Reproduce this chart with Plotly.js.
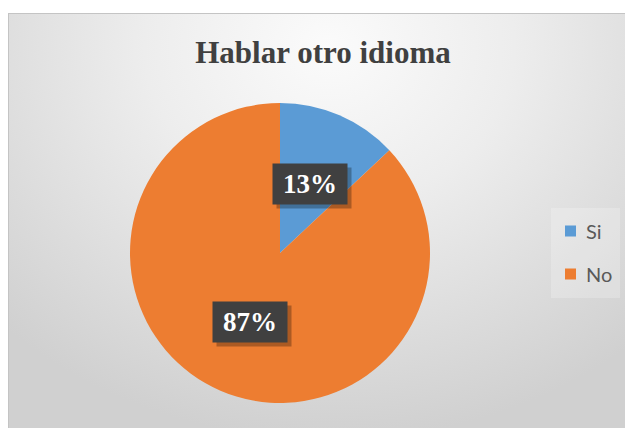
<!DOCTYPE html>
<html>
<head>
<meta charset="utf-8">
<script src="https://cdn.plot.ly/plotly-3.0.1.min.js"></script>
<style>
  html, body { margin: 0; padding: 0; background: #ffffff; }
  #frame {
    position: absolute; left: 8px; top: 13px; width: 617px; height: 415px;
    box-sizing: border-box;
    border-top: 1px solid #c4c4c4; border-left: 1px solid #c4c4c4;
    background: radial-gradient(ellipse 75% 95% at 52% 8%, #fbfbfb 0%, #ededed 40%, #dcdcdc 75%, #d0d0d0 100%);
  }
  #chart { position: absolute; left: 0; top: 0; width: 625px; height: 428px; }
</style>
</head>
<body>
<div id="frame"></div>
<div id="chart"></div>
<script>
// ---- data ----
const labels = ['Si', 'No'];
const values = [13, 87];
const sliceColors = ['#5B9BD5', '#ED7D31'];
const chartTitle = 'Hablar otro idioma';

// ---- geometry / style ----
const W = 625, H = 428;
const domain = { x: [130 / W, 430 / W], y: [1 - 403 / H, 1 - 103 / H] };

const total = values.reduce((a, b) => a + b, 0);
const pctText = values.map(v => Math.round(v / total * 100) + '%');

// label positions derived from data: halfway along each slice bisector
const cxPx = (domain.x[0] + domain.x[1]) / 2 * W;
const cyPx = (1 - (domain.y[0] + domain.y[1]) / 2) * H;
const rPx = Math.min((domain.x[1] - domain.x[0]) * W, (domain.y[1] - domain.y[0]) * H) / 2;

const annotations = [];
const shapes = [];
let cum = 0;
values.forEach((v, i) => {
  const mid = (cum + v / 2) / total * 2 * Math.PI; // clockwise from top
  cum += v;
  const px = cxPx + Math.sin(mid) * rPx * 0.5;
  const py = cyPx - Math.cos(mid) * rPx * 0.5;
  const base = {
    xref: 'paper', yref: 'paper', x: px / W, y: 1 - py / H,
    xanchor: 'center', yanchor: 'middle', showarrow: false,
    width: 72, height: 38
  };
  annotations.push(Object.assign({}, base, {
    text: ' ', bgcolor: 'rgba(0,0,0,0.28)', xshift: 4, yshift: -4
  }));
  annotations.push(Object.assign({}, base, {
    text: '<b>' + pctText[i] + '</b>',
    bgcolor: '#404040',
    font: { family: 'Liberation Serif, Times New Roman, serif', size: 27, color: '#ffffff' }
  }));
});

// legend (built from labels / colours)
const leg = { x0: 551, x1: 620, y0: 208, y1: 298, firstY: 231, step: 43, sq: 11, sqX: 565, textX: 584 };
shapes.push({
  type: 'rect', xref: 'paper', yref: 'paper',
  x0: leg.x0 / W, x1: leg.x1 / W, y0: 1 - leg.y1 / H, y1: 1 - leg.y0 / H,
  fillcolor: 'rgba(255,255,255,0.22)', line: { width: 0 }, layer: 'below'
});
labels.forEach((lab, i) => {
  const yc = leg.firstY + i * leg.step;
  shapes.push({
    type: 'rect', xref: 'paper', yref: 'paper',
    x0: leg.sqX / W, x1: (leg.sqX + leg.sq) / W,
    y0: 1 - (yc + leg.sq / 2) / H, y1: 1 - (yc - leg.sq / 2) / H,
    fillcolor: sliceColors[i], line: { width: 0 }
  });
  annotations.push({
    xref: 'paper', yref: 'paper', x: leg.textX / W, y: 1 - yc / H,
    xanchor: 'left', yanchor: 'middle', showarrow: false,
    text: lab,
    font: { family: 'Lato, Liberation Sans, sans-serif', size: 20, color: '#595959' }
  });
});

const trace = {
  type: 'pie',
  labels: labels,
  values: values,
  sort: false,
  direction: 'clockwise',
  rotation: 0,
  domain: domain,
  textinfo: 'none',
  hoverinfo: 'skip',
  showlegend: false,
  marker: { colors: sliceColors, line: { width: 0 } }
};

const layout = {
  width: W, height: H,
  margin: { l: 0, r: 0, t: 0, b: 0 },
  paper_bgcolor: 'rgba(0,0,0,0)',
  plot_bgcolor: 'rgba(0,0,0,0)',
  title: {
    text: '<b>' + chartTitle + '</b>',
    font: { family: 'Liberation Serif, Times New Roman, serif', size: 31, color: '#404040' },
    x: 323 / W, xanchor: 'center', xref: 'paper',
    y: 1 - 52 / H, yanchor: 'middle', yref: 'container'
  },
  showlegend: false,
  shapes: shapes,
  annotations: annotations
};

Plotly.newPlot('chart', [trace], layout, { displayModeBar: false, staticPlot: true });
</script>
</body>
</html>
